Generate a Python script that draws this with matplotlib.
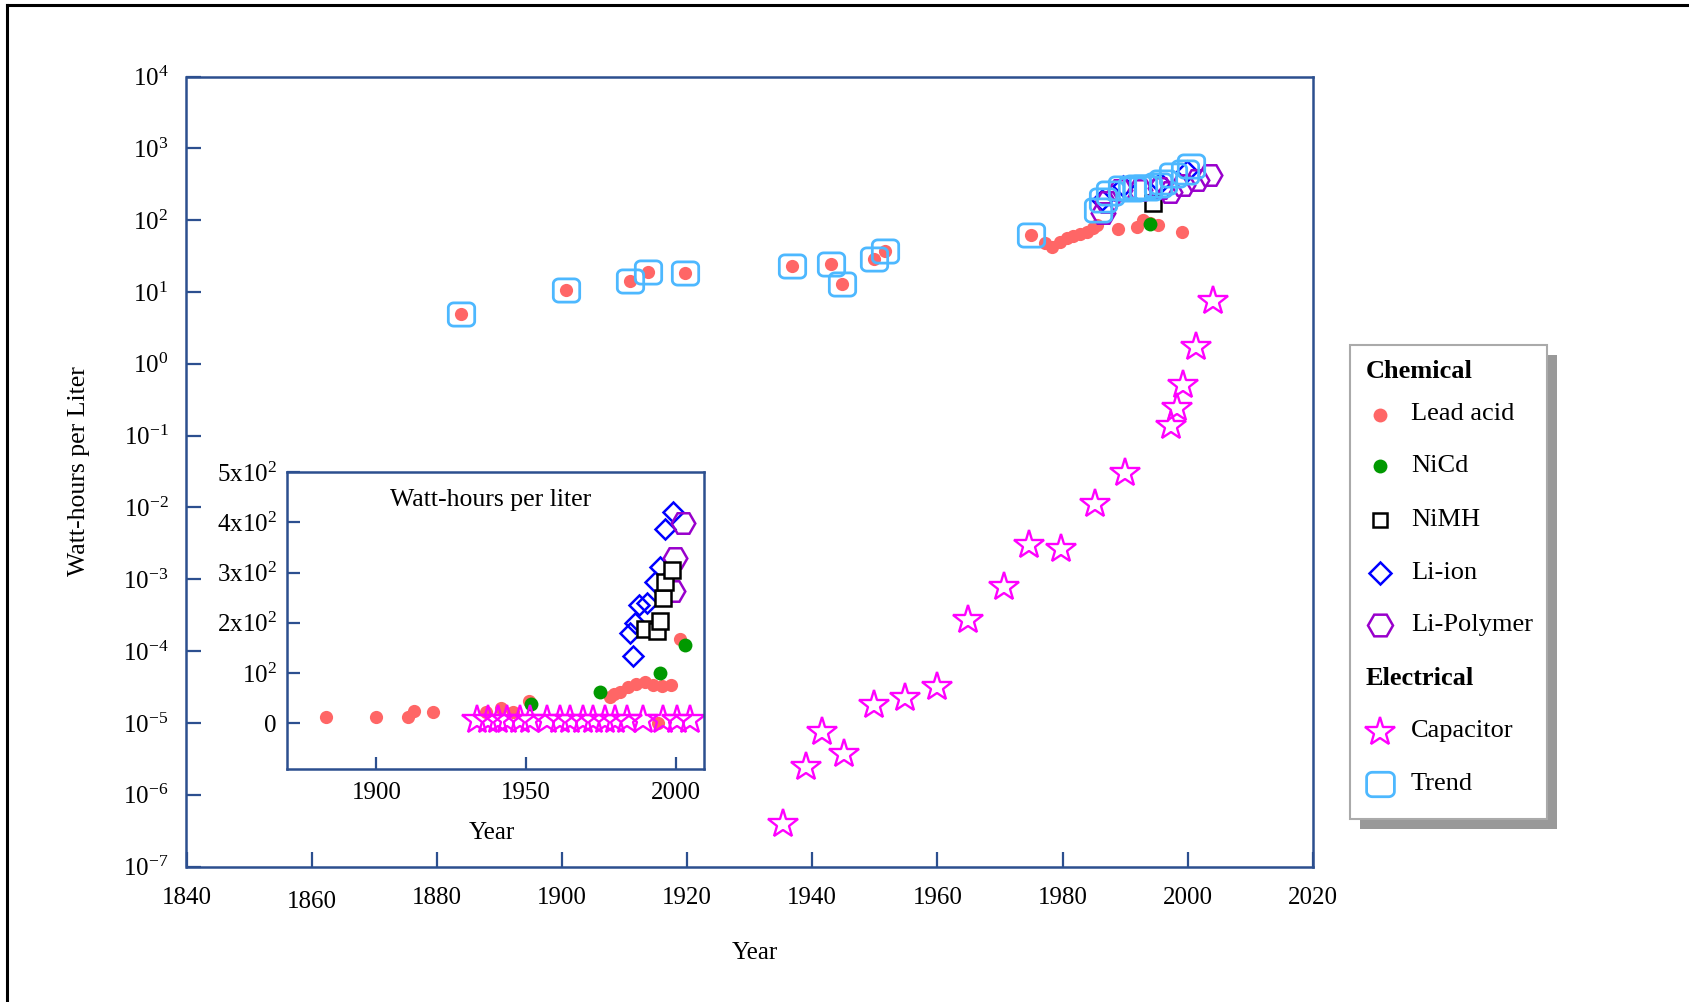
import numpy as np
import matplotlib
matplotlib.use("Agg")
import matplotlib.pyplot as plt
from matplotlib.path import Path
from matplotlib.lines import Line2D
from matplotlib.patches import Rectangle

plt.rcParams["font.family"] = ["Liberation Serif", "DejaVu Serif"]
plt.rcParams["mathtext.fontset"] = "custom"
plt.rcParams["mathtext.rm"] = "Liberation Serif"
plt.rcParams["mathtext.it"] = "Liberation Serif:italic"
plt.rcParams["mathtext.bf"] = "Liberation Serif:bold"
plt.rcParams["axes.unicode_minus"] = False

# ---- main (log) panel data, Wh/L ----
lead_years = [1883.9, 1900.7, 1910.9, 1913.8, 1919.6, 1936.8, 1943.0, 1944.7, 1949.8, 1951.6,
              1975.0, 1977.2, 1978.3, 1979.6, 1980.7, 1981.7, 1982.8, 1983.9, 1984.9, 1985.5,
              1988.9, 1991.9, 1992.9, 1994.0, 1995.3, 1999.1]
lead_vals = [4.9, 10.6, 14.2, 19.1, 18.5, 23, 24.5, 12.9, 28.5, 37.6,
             62, 48, 42, 50, 56, 60, 64, 68, 78, 86,
             75, 80, 100, 91, 85, 68]
nicd_years = [1994.0]
nicd_vals = [88]
nimh_years = [1994.5]
nimh_vals = [174]
liion_years = [1986.3, 1989.7, 1995.6, 1999.9]
liion_vals = [191, 299, 329, 483]
lipoly_years = [1986.5, 1987.1, 1989.2, 1992.4, 1995.6, 1997.2, 1999.3, 2001.5, 2003.6]
lipoly_vals = [125, 179, 263, 263, 280, 246, 309, 363, 427]
cap_years = [1935.4, 1939.0, 1941.6, 1945.1, 1949.9, 1954.9, 1960.0, 1964.9, 1970.6,
             1974.7, 1979.7, 1985.2, 1990.0, 1997.4, 1998.3, 1999.3, 2001.4, 2004.0]
cap_vals = [3.9e-7, 2.45e-6, 7.4e-6, 3.7e-6, 1.8e-5, 2.2e-5, 3.2e-5, 2.7e-4, 7.9e-4,
            3.0e-3, 2.6e-3, 1.1e-2, 0.030, 0.136, 0.245, 0.51, 1.7, 7.5]
trend_years = [1883.9, 1900.7, 1910.9, 1913.8, 1919.6, 1936.8, 1943.0, 1944.7, 1949.8, 1951.6,
               1975.0, 1985.7, 1986.5, 1987.6, 1989.5, 1991.1, 1991.9, 1992.9, 1993.7,
               1995.3, 1996.1, 1997.7, 1999.6, 2000.6]
trend_vals = [4.9, 10.6, 14.2, 19.1, 18.5, 23, 24.5, 12.9, 28.5, 37.6,
              62, 138, 191, 239, 280, 272, 285, 290, 283,
              308, 340, 425, 468, 560]

# ---- inset (linear) panel data ----
in_lead_years = [1883.3, 1900.0, 1910.7, 1912.6, 1918.8, 1936.6, 1941.6, 1945.6, 1950.9,
                 1978.0, 1979.5, 1981.4, 1984.1, 1986.9, 1989.7, 1992.5, 1995.3, 1998.6,
                 1994.2, 2001.4]
in_lead_vals = [13, 13, 13, 24, 23, 23, 30, 23, 45,
                53, 58, 63, 73, 78, 83, 76, 74, 76,
                1, 167]
in_nicd_years = [1951.6, 1974.6, 1994.7, 2003.1]
in_nicd_vals = [38, 63, 100, 156]
in_nimh_years = [1989.8, 1993.8, 1994.6, 1995.8, 1996.3, 1998.9]
in_nimh_vals = [188, 183, 203, 250, 281, 304]
in_liion_years = [1985.8, 1984.8, 1986.5, 1987.8, 1990.5, 1993.0, 1994.6, 1996.5, 1999.2]
in_liion_vals = [134, 180, 200, 235, 240, 282, 310, 386, 420]
in_lipoly_years = [1999.0, 1999.7, 2002.5]
in_lipoly_vals = [263, 328, 398]
in_cap_years = [1933.5, 1937.4, 1940.7, 1943.5, 1947.9, 1951.3, 1956.9, 1961.3, 1964.6,
                1969.1, 1972.4, 1976.3, 1979.7, 1983.6, 1989.1, 1995.8, 2000.3, 2004.7]
in_cap_vals = [7] * len(in_cap_years)

main_yticks = [10.0 ** k for k in range(-7, 5)]
main_xticks = list(range(1840, 2021, 20))
in_xticks = [1900, 1950, 2000]
in_yticks = [0, 100, 200, 300, 400, 500]
in_ylabels = ["0", r"$\mathdefault{10^{2}}$", r"$\mathdefault{2x10^{2}}$",
              r"$\mathdefault{3x10^{2}}$", r"$\mathdefault{4x10^{2}}$", r"$\mathdefault{5x10^{2}}$"]

SPINE = "#2c4f8f"
W, H = 1690, 1002


def rounded_box(r=0.42, n=10, squash=0.88):
    pts = []
    for cx, cy, a0 in [(1 - r, 1 - r, 0), (-1 + r, 1 - r, 90), (-1 + r, -1 + r, 180), (1 - r, -1 + r, 270)]:
        for t in np.radians(np.linspace(a0, a0 + 90, n)):
            pts.append((cx + r * np.cos(t), (cy + r * np.sin(t)) * squash))
    pts.append(pts[0])
    return Path(pts, closed=True)


TREND_MARKER = rounded_box()

STY = {
    "lead": dict(marker="o", ms=9.5, mfc="#ff6666", mec="none"),
    "nicd": dict(marker="o", ms=10, mfc="#009900", mec="none"),
    "nimh": dict(marker="s", ms=11, mfc="white", mec="black", mew=1.8),
    "liion": dict(marker="D", ms=10, mfc="none", mec="#0000ff", mew=1.8),
    "lipoly": dict(marker="H", ms=17, mfc="none", mec="#9900cc", mew=1.8),
    "cap": dict(marker="*", ms=22, mfc="none", mec="#ff00ff", mew=1.7),
    "trend": dict(marker=TREND_MARKER, ms=19, mfc="none", mec="#4db8ff", mew=2.0),
}


def style_axes(a, tick_len, pad):
    for s in a.spines.values():
        s.set_color(SPINE)
        s.set_linewidth(1.8)
    a.tick_params(which="both", direction="in", color=SPINE, width=1.6,
                  length=tick_len, labelsize=18, top=False, right=False, pad=pad)
    a.minorticks_off()


fig = plt.figure(figsize=(W / 100, H / 100), dpi=100)

# main panel
ax = fig.add_axes([186.5 / W, 1 - 866.5 / H, 1126.3 / W, 790 / H])
ax.set_yscale("log")
ax.plot(lead_years, lead_vals, ls="none", **STY["lead"])
ax.plot(nicd_years, nicd_vals, ls="none", **STY["nicd"])
ax.plot(nimh_years, nimh_vals, ls="none", **STY["nimh"])
ax.plot(liion_years, liion_vals, ls="none", **STY["liion"])
ax.plot(lipoly_years, lipoly_vals, ls="none", **STY["lipoly"])
ax.plot(cap_years, cap_vals, ls="none", **STY["cap"])
ax.plot(trend_years, trend_vals, ls="none", **STY["trend"])
ax.set_xlim(1840, 2020)
ax.set_ylim(1e-7, 1e4)
ax.set_yticks(main_yticks)
ax.set_xticks(main_xticks)
style_axes(ax, 11, 13)
ax.yaxis.set_minor_locator(matplotlib.ticker.NullLocator())
ax.tick_params(axis="x", pad=14.5)
for tk, val in zip(ax.xaxis.get_major_ticks(), main_xticks):
    if val == 1860:
        tk.set_pad(17.5)
ax.set_xlabel("Year", fontsize=18)
ax.xaxis.set_label_coords(0.505, -0.096)
ax.set_ylabel("Watt-hours per Liter", fontsize=18.5)
ax.yaxis.set_label_coords(-0.086, 0.5)

# inset panel
ai = fig.add_axes([286.7 / W, 1 - 768.5 / H, 417.1 / W, 296.5 / H])
ai.plot(in_lead_years, in_lead_vals, ls="none", **STY["lead"])
ai.plot(in_nicd_years, in_nicd_vals, ls="none", **STY["nicd"])
ai.plot(in_liion_years, in_liion_vals, ls="none", **STY["liion"])
ai.plot(in_lipoly_years, in_lipoly_vals, ls="none", **STY["lipoly"])
ai.plot(in_nimh_years, in_nimh_vals, ls="none", **STY["nimh"])
ai.plot(in_cap_years, in_cap_vals, ls="none", **STY["cap"])
ai.set_xlim(1870, 2009.4)
ai.set_ylim(-90, 500)
ai.set_xticks(in_xticks)
ai.set_yticks(in_yticks)
ai.set_yticklabels(in_ylabels)
style_axes(ai, 9, 7)
ai.tick_params(axis="x", pad=9.5)
ai.set_xlabel("Year", fontsize=18)
ai.xaxis.set_label_coords(0.491, -0.180)
ai.text(0.49, 0.905, "Watt-hours per liter", transform=ai.transAxes,
        ha="center", va="center", fontsize=18.5)

# legend, drawn by hand so the group headers sit left of the markers
lx0, ly0, lx1, ly1 = 1350.5, 345, 1546.6, 819
fig.add_artist(Rectangle(((lx0 + 10) / W, 1 - (ly1 + 10) / H), (lx1 - lx0) / W, (ly1 - ly0) / H,
                         transform=fig.transFigure, fc="#999999", ec="none", zorder=5))
fig.add_artist(Rectangle((lx0 / W, 1 - ly1 / H), (lx1 - lx0) / W, (ly1 - ly0) / H,
                         transform=fig.transFigure, fc="white", ec="#aaaaaa", lw=1.5, zorder=6))
legend_rows = [("Chemical", None), ("Lead acid", "lead"), ("NiCd", "nicd"), ("NiMH", "nimh"),
               ("Li-ion", "liion"), ("Li-Polymer", "lipoly"), ("Electrical", None),
               ("Capacitor", "cap"), ("Trend", "trend")]
row_y = [371.5, 414.5, 466, 520, 573, 625, 678.5, 731.5, 784]
leg_ms = {"lead": 10, "nicd": 10, "nimh": 10, "liion": 11, "lipoly": 18, "cap": 22, "trend": 20}
for (label, key), yy in zip(legend_rows, row_y):
    fy = 1 - yy / H
    if key is None:
        fig.text(1365.6 / W, fy, label, fontsize=19, fontweight="bold", va="center", zorder=7)
        continue
    st = dict(STY[key])
    st["ms"] = leg_ms[key]
    if key == "nimh":
        st["mfc"] = "none"
    fig.add_artist(Line2D([1379.6 / W], [fy], transform=fig.transFigure, ls="none", zorder=7, **st))
    fig.text(1411 / W, fy, label, fontsize=19, va="center", zorder=7)

# figure frame (top and left edges visible)
fig.add_artist(Line2D([7.5 / W, 1], [1 - 5 / H, 1 - 5 / H], transform=fig.transFigure, color="black", lw=2.2))
fig.add_artist(Line2D([7.5 / W, 7.5 / W], [0, 1 - 5 / H], transform=fig.transFigure, color="black", lw=2.2))

fig.savefig("out.png", dpi=100)
